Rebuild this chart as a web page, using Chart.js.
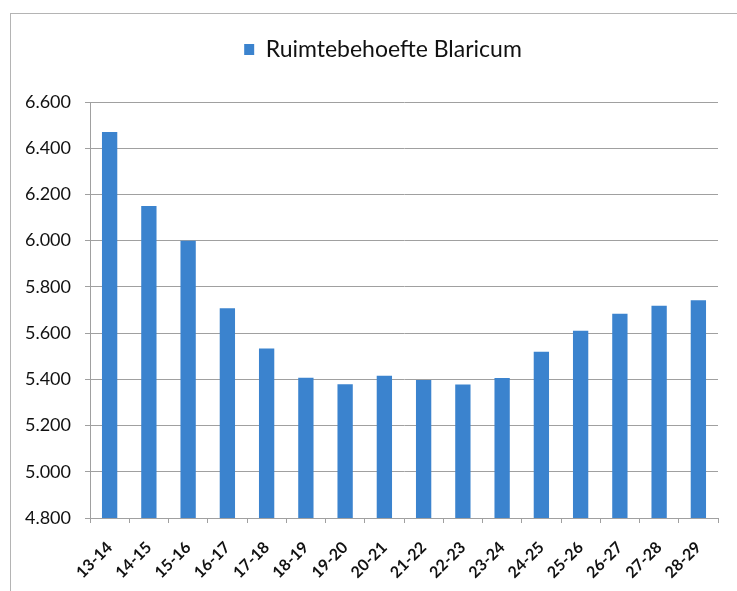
<!DOCTYPE html>
<html>
<head>
<meta charset="utf-8">
<script src="https://cdn.jsdelivr.net/npm/chart.js@4/dist/chart.umd.min.js"></script>
<style>
  html, body { margin: 0; padding: 0; background: #fff; }
  #wrap { position: relative; width: 737px; height: 591px; overflow: hidden; }
  #frame { position: absolute; left: 10px; top: 13px; width: 760px; height: 620px;
           border: 1px solid #b4b4b4; box-sizing: border-box; }
  canvas { position: absolute; left: 0; top: 0; }
</style>
</head>
<body>
<div id="wrap">
  <div id="frame"></div>
  <canvas id="c" width="737" height="591"></canvas>
</div>
<script>
// Schooljaren en benodigde ruimte
const categories = ['13-14','14-15','15-16','16-17','17-18','18-19','19-20','20-21',
                    '21-22','22-23','23-24','24-25','25-26','26-27','27-28','28-29'];
const ruimtebehoefte = [6470, 6150, 6000, 5708, 5533, 5407, 5379, 5415,
                        5397, 5378, 5406, 5519, 5610, 5684, 5718, 5742];
const seriesLabel = 'Ruimtebehoefte Blaricum';
const yMin = 4800, yMax = 6600, yStep = 200;

// thousands separator as in Dutch notation: 6.600
const fmtDots = v => String(v).replace(/\B(?=(\d{3})+(?!\d))/g, '.');

const FONT = 'Lato, "Open Sans", "Liberation Sans", sans-serif';

// legend: extra white space below it, and centred on the outer frame
const legendPlacement = {
  id: 'legendPlacement',
  afterInit(chart) {
    const lg = chart.legend;
    if (!lg) return;
    const fit = lg.fit;
    lg.fit = function () { fit.call(this); this.height += 31; };
  },
  afterLayout(chart) {
    const lg = chart.legend;
    if (!lg) return;
    lg.left += 24;
    lg.right += 24;
  }
};

new Chart(document.getElementById('c'), {
  type: 'bar',
  data: {
    labels: categories,
    datasets: [{
      label: seriesLabel,
      data: ruimtebehoefte,
      backgroundColor: '#3b83ce',
      borderWidth: 0,
      barPercentage: 0.39,
      categoryPercentage: 1.0
    }]
  },
  options: {
    responsive: false,
    animation: false,
    layout: { padding: { top: 22, right: 19, bottom: 0, left: 0 } },
    plugins: {
      tooltip: { enabled: false },
      legend: {
        position: 'top',
        labels: {
          boxWidth: 10, boxHeight: 11, padding: 16,
          color: '#111',
          font: { family: FONT, size: 23 }
        }
      }
    },
    scales: {
      x: {
        grid: { display: true, drawOnChartArea: false, offset: true,
                color: '#a0a0a0', tickLength: 5, lineWidth: 1 },
        border: { display: true, color: '#a0a0a0', width: 1 },
        ticks: {
          color: '#111', minRotation: 45, maxRotation: 45, autoSkip: false,
          padding: 15,
          font: { family: FONT, size: 16, weight: 'bold' }
        },
        afterFit: s => { s.height = 73; }
      },
      y: {
        min: yMin, max: yMax,
        grid: { color: '#a0a0a0', lineWidth: 1, tickLength: 5 },
        border: { display: true, color: '#a0a0a0', width: 1 },
        ticks: {
          stepSize: yStep, color: '#111', padding: 14,
          font: { family: FONT, size: 18 },
          callback: v => fmtDots(v)
        },
        afterFit: s => { s.width = 90; }
      }
    }
  },
  plugins: [legendPlacement]
});
</script>
</body>
</html>
